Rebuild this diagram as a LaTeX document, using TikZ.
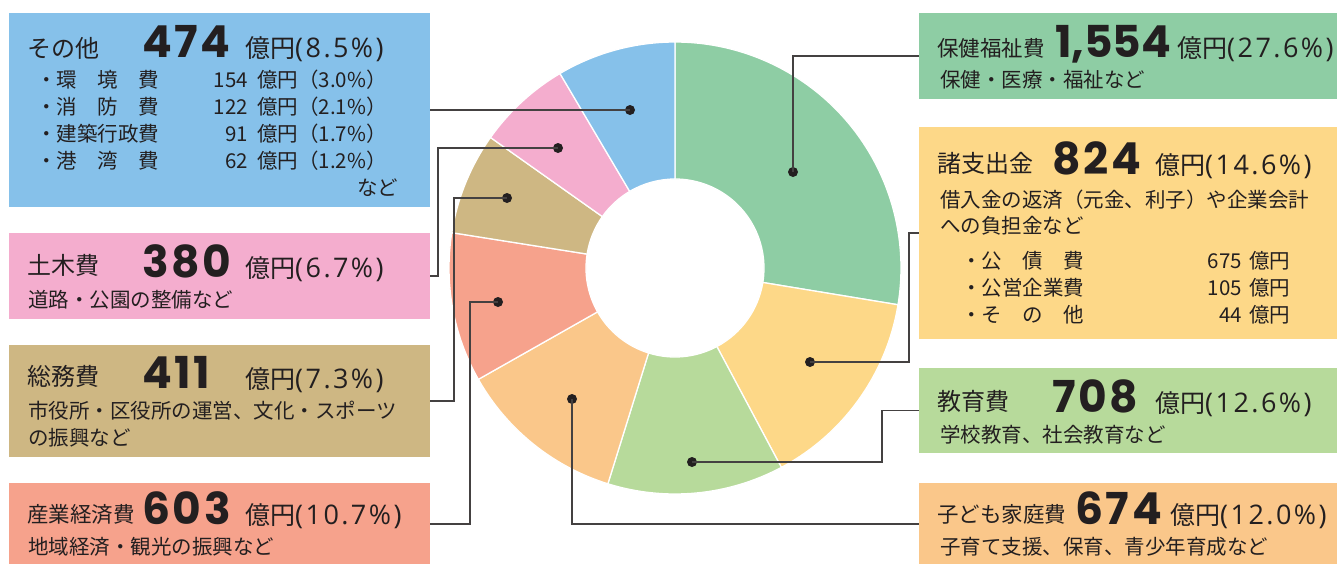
\documentclass[tikz,border=0pt]{standalone}
\usepackage{fontspec}
\setmainfont{Noto Sans CJK JP}
\newfontfamily\numfont{Poppins}[Numbers=Monospaced,LetterSpace=6]
\newfontfamily\numtight{Poppins}
\newfontfamily\pctfont{Open Sans}[LetterSpace=9]
\usepackage{tikz}
\usetikzlibrary{calc}
\definecolor{cHoken}{HTML}{8ECDA4}
\definecolor{cShishutsu}{HTML}{FDD888}
\definecolor{cKyoiku}{HTML}{B7DA9B}
\definecolor{cKodomo}{HTML}{FAC78A}
\definecolor{cSangyo}{HTML}{F6A28C}
\definecolor{cSomu}{HTML}{CEB783}
\definecolor{cDoboku}{HTML}{F4ADCE}
\definecolor{cSono}{HTML}{86C1EA}
\definecolor{ink}{HTML}{231F20}
\newcommand\hdfont{\fontsize{24}{28}\selectfont}
\newcommand\hdsmall{\fontsize{21.5}{26}\selectfont}
\newcommand\nmfont{\numfont\bfseries\fontsize{44}{48}\selectfont}
\newcommand\nmtightfont{\numtight\bfseries\fontsize{44}{48}\selectfont}
\newcommand\enfont{\fontsize{25}{30}\selectfont}
\newcommand\pct[1]{{\pctfont\fontsize{27}{30}\selectfont(#1\%)}}
\newcommand\sbfont{\fontsize{20.5}{26}\selectfont}

\begin{document}
\begin{tikzpicture}[x=1pt,y=-1pt,
  box/.style={inner sep=0pt,minimum width=421pt},
  rbox/.style={inner sep=0pt,minimum width=418pt},
  txt/.style={anchor=base west,inner sep=0pt,text=ink},
  rtxt/.style={anchor=base east,inner sep=0pt,text=ink},
  num/.style={txt,font=\nmfont,text depth=0pt},
  conn/.style={draw=ink!85,line width=1.6pt},
  dot/.style={circle,fill=ink,inner sep=0pt,minimum size=10pt}]
\useasboundingbox (0,0) rectangle (1337,563);

\begin{scope}[shift={(675,268)},x=1pt,y=1pt]
\foreach \a/\b/\c in {90/-9.36/cHoken,-9.36/-61.92/cShishutsu,-61.92/-107.28/cKyoiku,
  -107.28/-150.48/cKodomo,-150.48/-189/cSangyo,-189/-215.28/cSomu,
  -215.28/-239.4/cDoboku,-239.4/-270/cSono}
  \filldraw[fill=\c,draw=white,line width=1.3pt] (\a:226) arc[start angle=\a,end angle=\b,radius=226]
    -- (\b:89) arc[start angle=\b,end angle=\a,radius=89] -- cycle;
\end{scope}

\node[box,fill=cSono,minimum height=194pt] (sono) at (219.5,110) {};
\node[box,fill=cDoboku,minimum height=86pt] (doboku) at (219.5,276) {};
\node[box,fill=cSomu,minimum height=112pt] (somu) at (219.5,401) {};
\node[box,fill=cSangyo,minimum height=82pt] (sangyo) at (219.5,524) {};
\node[rbox,fill=cHoken,minimum height=86pt] (hoken) at (1128,56) {};
\node[rbox,fill=cShishutsu,minimum height=212pt] (shishutsu) at (1128,233) {};
\node[rbox,fill=cKyoiku,minimum height=85pt] (kyoiku) at (1128,410.5) {};
\node[rbox,fill=cKodomo,minimum height=82pt] (kodomo) at (1128,524) {};

\node[txt,font=\hdfont] (sonoH) at (27,57) {その他};
\node[num] (sonoN) at (142,57) {474};
\node[txt,font=\enfont] (sonoE) at (245,57) {億円\pct{8.5}};
\node[txt,font=\sbfont] (sono1) at (36,87) {・環　境　費};
\node[txt,font=\sbfont] (sono2) at (36,114) {・消　防　費};
\node[txt,font=\sbfont] (sono3) at (36,141) {・建築行政費};
\node[txt,font=\sbfont] (sono4) at (36,168) {・港　湾　費};
\node[rtxt,font=\sbfont] (sono1n) at (248,87) {154};
\node[rtxt,font=\sbfont] (sono2n) at (248,114) {122};
\node[rtxt,font=\sbfont] (sono3n) at (248,141) {91};
\node[rtxt,font=\sbfont] (sono4n) at (248,168) {62};
\node[txt,font=\sbfont] (sono1e) at (257,87) {億円（3.0\%）};
\node[txt,font=\sbfont] (sono2e) at (257,114) {億円（2.1\%）};
\node[txt,font=\sbfont] (sono3e) at (257,141) {億円（1.7\%）};
\node[txt,font=\sbfont] (sono4e) at (257,168) {億円（1.2\%）};
\node[txt,font=\sbfont] (sono5) at (357,195) {など};

\node[txt,font=\hdfont] (dobokuH) at (27,274) {土木費};
\node[num] (dobokuN) at (142,277) {380};
\node[txt,font=\enfont] (dobokuE) at (245,277) {億円\pct{6.7}};
\node[txt,font=\sbfont] (doboku1) at (28,307) {道路・公園の整備など};

\node[txt,font=\hdfont] (somuH) at (27,385) {総務費};
\node[num] (somuN) at (142,388) {411};
\node[txt,font=\enfont] (somuE) at (245,388) {億円\pct{7.3}};
\node[txt,font=\sbfont] (somu1) at (28,418) {市役所・区役所の運営、文化・スポーツ};
\node[txt,font=\sbfont] (somu2) at (28,445) {の振興など};

\node[txt,font=\hdsmall] (sangyoH) at (27,522) {産業経済費};
\node[num] (sangyoN) at (142,524) {603};
\node[txt,font=\enfont] (sangyoE) at (245,524) {億円\pct{10.7}};
\node[txt,font=\sbfont] (sangyo1) at (28,554) {地域経済・観光の振興など};

\node[txt,font=\hdsmall] (hokenH) at (937,56) {保健福祉費};
\node[num,font=\nmtightfont] (hokenN) at (1055,57) {1,554};
\node[txt,font=\enfont] (hokenE) at (1177,57) {億円\pct{27.6}};
\node[txt,font=\sbfont] (hoken1) at (940,87) {保健・医療・福祉など};

\node[txt,font=\hdfont] (shishutsuH) at (937,172) {諸支出金};
\node[num] (shishutsuN) at (1052,174) {824};
\node[txt,font=\enfont] (shishutsuE) at (1155,174) {億円\pct{14.6}};
\node[txt,font=\sbfont] (shishutsu1) at (940,207) {借入金の返済（元金、利子）や企業会計};
\node[txt,font=\sbfont] (shishutsu2) at (940,233) {への負担金など};
\node[txt,font=\sbfont] (shishutsu3) at (961,268) {・公　債　費};
\node[txt,font=\sbfont] (shishutsu4) at (961,295) {・公営企業費};
\node[txt,font=\sbfont] (shishutsu5) at (961,322) {・そ　の　他};
\node[rtxt,font=\sbfont] (shishutsu3n) at (1242,268) {675};
\node[rtxt,font=\sbfont] (shishutsu4n) at (1242,295) {105};
\node[rtxt,font=\sbfont] (shishutsu5n) at (1242,322) {44};
\node[txt,font=\sbfont] (shishutsu3e) at (1249,268) {億円};
\node[txt,font=\sbfont] (shishutsu4e) at (1249,295) {億円};
\node[txt,font=\sbfont] (shishutsu5e) at (1249,322) {億円};

\node[txt,font=\hdfont] (kyoikuH) at (937,410) {教育費};
\node[num] (kyoikuN) at (1052,412) {708};
\node[txt,font=\enfont] (kyoikuE) at (1155,412) {億円\pct{12.6}};
\node[txt,font=\sbfont] (kyoiku1) at (940,442) {学校教育、社会教育など};

\node[txt,font=\hdsmall] (kodomoH) at (937,522) {子ども家庭費};
\node[num] (kodomoN) at (1075,524) {674};
\node[txt,font=\enfont] (kodomoE) at (1170,524) {億円\pct{12.0}};
\node[txt,font=\sbfont] (kodomo1) at (940,554) {子育て支援、保育、青少年育成など};

\node[dot] (dSono) at (630,110) {};
\node[dot] (dDoboku) at (558,148) {};
\node[dot] (dSomu) at (507,198) {};
\node[dot] (dSangyo) at (498,302) {};
\node[dot] (dKodomo) at (572,399) {};
\node[dot] (dKyoiku) at (692,462) {};
\node[dot] (dShishutsu) at (810,362) {};
\node[dot] (dHoken) at (793,172) {};

\draw[conn] (dSono.center) -- (sono.east);
\draw[conn] (dDoboku.center) -| ([xshift=8pt]doboku.east) -- (doboku.east);
\draw[conn] (dSomu.center) -| ([xshift=24pt]somu.east) -- (somu.east);
\draw[conn] (dSangyo.center) -| ([xshift=40pt]sangyo.east) -- (sangyo.east);
\draw[conn] (dKodomo.center) |- (kodomo.west);
\draw[conn] (dKyoiku.center) -| ([xshift=-37pt]kyoiku.west) -- (kyoiku.west);
\draw[conn] (dShishutsu.center) -| ([xshift=-10pt]shishutsu.west) -- (shishutsu.west);
\draw[conn] (dHoken.center) |- (hoken.west);
\end{tikzpicture}
\end{document}
